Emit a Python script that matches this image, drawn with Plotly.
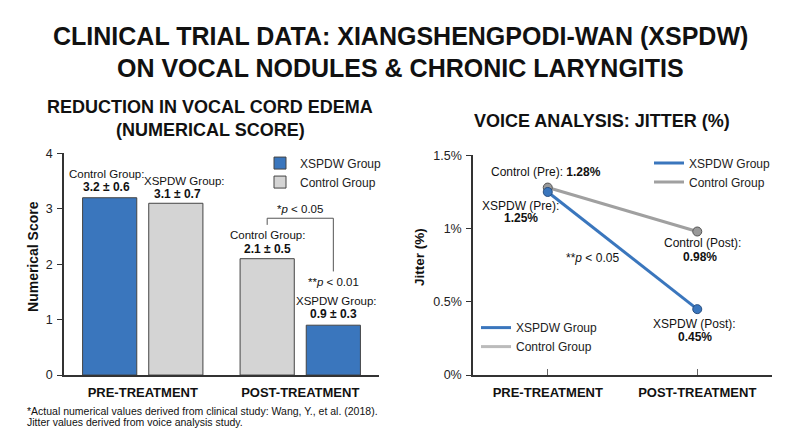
import plotly.graph_objects as go

# --- data ---
stages = ["PRE-TREATMENT", "POST-TREATMENT"]

edema_xspdw = [3.2, 0.9]
edema_control = [3.1, 2.1]
edema_labels = [
    ("Control Group:", "3.2 ± 0.6"),
    ("XSPDW Group:", "3.1 ± 0.7"),
    ("Control Group:", "2.1 ± 0.5"),
    ("XSPDW Group:", "0.9 ± 0.3"),
]

jitter_xspdw = [1.25, 0.45]
jitter_control = [1.28, 0.98]

BLUE = "#3a76bd"
GRAY_FILL = "#d4d4d4"
GRAY_LINE = "#a0a0a0"
EDGE = "#444444"
FONT = "Liberation Sans"

# the page puts the plot 8px in from the top-left corner
OFF = 8


def X(px):
    return (px - OFF) / 800


def Y(py):
    return 1 - (py - OFF) / 436


fig = go.Figure()

# left panel: bars (the colour slot swaps between stages, as in the source)
fig.add_trace(go.Bar(
    x=stages, y=edema_xspdw, name="XSPDW Group",
    offset=[-0.382, 0.038], width=0.344,
    marker=dict(color=BLUE, line=dict(color=EDGE, width=1)),
    xaxis="x", yaxis="y", legend="legend",
))
fig.add_trace(go.Bar(
    x=stages, y=edema_control, name="Control Group",
    offset=[0.038, -0.382], width=0.344,
    marker=dict(color=GRAY_FILL, line=dict(color=EDGE, width=1)),
    xaxis="x", yaxis="y", legend="legend",
))

# right panel: lines
fig.add_trace(go.Scatter(
    x=stages, y=jitter_control, name="Control Group", mode="lines+markers",
    line=dict(color=GRAY_LINE, width=3), showlegend=False,
    marker=dict(size=9, color="#999999", line=dict(color="#555555", width=1)),
    xaxis="x2", yaxis="y2",
))
fig.add_trace(go.Scatter(
    x=stages, y=jitter_xspdw, name="XSPDW Group", mode="lines+markers",
    line=dict(color=BLUE, width=3), showlegend=False,
    marker=dict(size=9, color=BLUE, line=dict(color="#2a4f80", width=1)),
    xaxis="x2", yaxis="y2",
))
# the two legends of the right panel (line keys only)
for leg, gray in [("legend2", GRAY_LINE), ("legend3", "#bbbbbb")]:
    for name, col in [("XSPDW Group", BLUE), ("Control Group", gray)]:
        fig.add_trace(go.Scatter(
            x=[None], y=[None], name=name, mode="lines",
            line=dict(color=col, width=3),
            xaxis="x2", yaxis="y2", legend=leg,
        ))

anns = []


def txt(x, y, s, size=12, xref="x", yref="y", **kw):
    kw.setdefault("xanchor", "center")
    kw.setdefault("yanchor", "middle")
    anns.append(dict(x=x, y=y, xref=xref, yref=yref, text=s, showarrow=False,
                     font=dict(family=FONT, size=size, color="#111111"), **kw))


def ptxt(px, py, s, size, **kw):
    txt(X(px), Y(py), s, size, "paper", "paper", **kw)


# titles
ptxt(400, 30, "<b>CLINICAL TRIAL DATA: XIANGSHENGPODI-WAN (XSPDW)</b>", 25)
ptxt(400, 63, "<b>ON VOCAL NODULES & CHRONIC LARYNGITIS</b>", 25)
ptxt(210, 103, "<b>REDUCTION IN VOCAL CORD EDEMA</b>", 18)
ptxt(210, 127, "<b>(NUMERICAL SCORE)</b>", 18)
ptxt(602, 118, "<b>VOICE ANALYSIS: JITTER (%)</b>", 18)

# axis titles
ptxt(33, 258, "<b>Numerical Score</b>", 14, textangle=-90)
ptxt(420, 258, "<b>Jitter (%)</b>", 13.5, textangle=-90)

# bar labels
pos = [(-0.229, 3.63, -0.229, 3.39), (0.268, 3.51, 0.223, 3.27),
       (0.79, 2.52, 0.79, 2.27), (1.229, 1.33, 1.21, 1.10)]
for (a, b), (x1, y1, x2, y2) in zip(edema_labels, pos):
    txt(x1, y1, a, 11.5)
    txt(x2, y2, f"<b>{b}</b>", 12)
txt(0.998, 2.99, "*<i>p</i> < 0.05", 11.5)
txt(1.21, 1.68, "**<i>p</i> < 0.01", 11.5)

# jitter labels
txt(-0.013, 1.388, f"Control (Pre): <b>{jitter_control[0]:.2f}%</b>", 12, xref="x2", yref="y2")
txt(-0.18, 1.157, "XSPDW (Pre):", 12, xref="x2", yref="y2")
txt(-0.18, 1.071, f"<b>{jitter_xspdw[0]:.2f}%</b>", 12, xref="x2", yref="y2")
txt(0.30, 0.80, "**<i>p</i> < 0.05", 12, xref="x2", yref="y2")
txt(1.033, 0.899, "Control (Post):", 12, xref="x2", yref="y2")
txt(1.02, 0.806, f"<b>{jitter_control[1]:.2f}%</b>", 12, xref="x2", yref="y2")
txt(0.98, 0.350, "XSPDW (Post):", 12, xref="x2", yref="y2")
txt(0.987, 0.258, f"<b>{jitter_xspdw[1]:.2f}%</b>", 12, xref="x2", yref="y2")

# footnote
ptxt(25, 417, "*Actual numerical values derived from clinical study: Wang, Y., et al. (2018).",
     10.5, xanchor="left")
ptxt(25, 428.5, "Jitter values derived from voice analysis study.", 10.5, xanchor="left")

axis_common = dict(showgrid=False, zeroline=False, showline=True,
                   linecolor="#333333", linewidth=1.5)

fig.update_layout(
    annotations=anns,
    shapes=[dict(type="path", xref="x", yref="y",
                 path="M 0.79,2.71 L 0.79,2.83 L 1.21,2.83 L 1.21,1.87",
                 line=dict(color="#555555", width=1))],
    width=800, height=436,
    margin=dict(l=0, r=0, t=0, b=0),
    paper_bgcolor="white", plot_bgcolor="white",
    font=dict(family=FONT, size=13, color="#222222"),
    barmode="overlay",
    xaxis=dict(domain=[X(64), X(379)], range=[-0.5, 1.5], anchor="y",
               ticks="", tickfont=dict(size=13, color="#111111"),
               ticklabelstandoff=5,
               ticktext=[f"<b>{s}</b>" for s in stages], tickvals=stages,
               **axis_common),
    yaxis=dict(domain=[Y(380), Y(151)], range=[0, 4], dtick=1,
               anchor="x", ticks="outside", ticklen=5, tickcolor="#333333",
               ticklabelstandoff=2, tickfont=dict(size=12.5), **axis_common),
    xaxis2=dict(domain=[X(473), X(772)], range=[-0.5, 1.5], anchor="y2",
                ticks="inside", ticklen=6, tickcolor="#666666",
                tickfont=dict(size=13, color="#111111"), ticklabelstandoff=5,
                ticktext=[f"<b>{s}</b>" for s in stages], tickvals=stages,
                **axis_common),
    yaxis2=dict(domain=[Y(380), Y(153)], range=[0, 1.5],
                anchor="x2", tickvals=[0, 0.5, 1, 1.5],
                ticktext=["0%", "0.5%", "1%", "1.5%"],
                ticks="outside", ticklen=5, tickcolor="#333333",
                ticklabelstandoff=2, tickfont=dict(size=12.5), **axis_common),
    legend=dict(x=X(260), y=Y(146), xanchor="left", yanchor="top",
                bgcolor="rgba(0,0,0,0)", font=dict(size=12, color="#222222"),
                tracegroupgap=0),
    legend2=dict(x=X(649), y=Y(146), xanchor="left", yanchor="top",
                 bgcolor="rgba(0,0,0,0)", font=dict(size=12, color="#222222")),
    legend3=dict(x=X(476), y=Y(316), xanchor="left", yanchor="top",
                 bgcolor="rgba(0,0,0,0)", font=dict(size=12, color="#222222")),
)

fig.write_html("out.html")
